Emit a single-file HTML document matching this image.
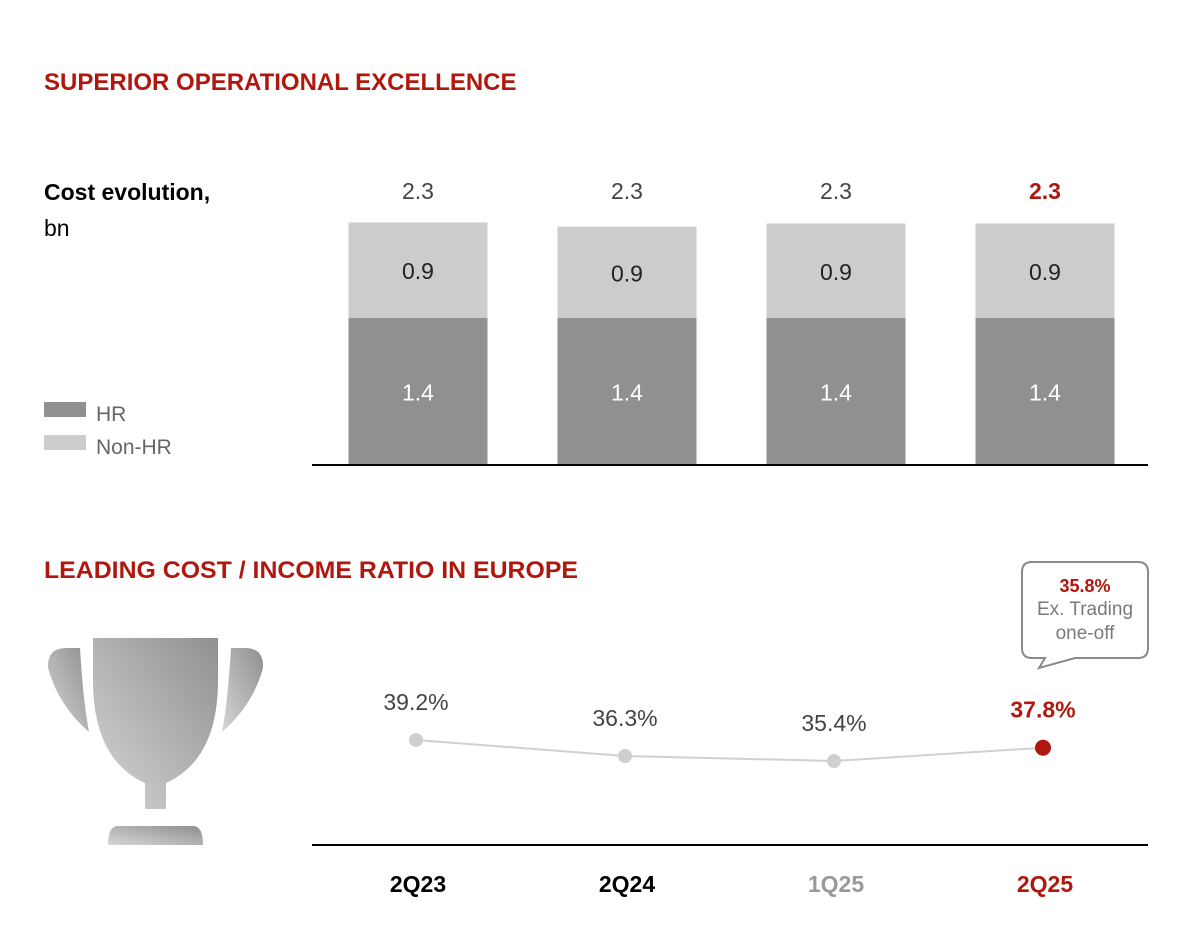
<!DOCTYPE html>
<html><head><meta charset="utf-8"><style>
body{margin:0;width:1186px;height:928px;background:#fff;font-family:"Liberation Sans",sans-serif;overflow:hidden}
svg{display:block}
</style></head><body>
<svg width="1186" height="928">
<defs>
<linearGradient id="tg" x1="1" y1="0" x2="0" y2="1"><stop offset="0" stop-color="#8f8f8f"/><stop offset="1" stop-color="#d6d6d6"/></linearGradient>
</defs>
<text x="44" y="90" font-size="24" font-weight="bold" fill="#b0180f">SUPERIOR OPERATIONAL EXCELLENCE</text>
<text x="44" y="200" font-size="23" font-weight="bold" fill="#000">Cost evolution,</text>
<text x="44" y="236" font-size="23" fill="#000">bn</text>
<rect x="44" y="402" width="42" height="15" fill="#909090"/>
<text x="96" y="421" font-size="21" fill="#666">HR</text>
<rect x="44" y="435" width="42" height="15" fill="#cccccc"/>
<text x="96" y="454" font-size="21" fill="#666">Non-HR</text>
<g id="bars"></g>
<line x1="312" y1="465" x2="1148" y2="465" stroke="#000" stroke-width="2"/>
<text x="44" y="578" font-size="24" font-weight="bold" fill="#b0180f" textLength="534" lengthAdjust="spacingAndGlyphs">LEADING COST / INCOME RATIO IN EUROPE</text>
<g fill="url(#tg)">
<path d="M66,648 L80,648 Q83,700 89,732 Q58,705 48,668 Q47,648 66,648 Z"/>
<path d="M245,648 L231,648 Q228,700 222,732 Q253,705 263,668 Q264,648 245,648 Z"/>
<path d="M90,635 L221,635 L221,680 Q221,760 169,785 L169,812 L142,812 L142,785 Q90,760 90,680 Z" stroke="#fff" stroke-width="6"/>
<path d="M118,826 L193,826 Q203,826 203,845 L108,845 Q108,826 118,826 Z"/>
</g>
<g>
<path d="M1032,562 L1138,562 Q1148,562 1148,572 L1148,648 Q1148,658 1138,658 L1075,658 L1039,668 L1045,658 L1032,658 Q1022,658 1022,648 L1022,572 Q1022,562 1032,562 Z" fill="#fff" stroke="#8a8a8a" stroke-width="2"/>
<text x="1085" y="592" font-size="18" font-weight="bold" fill="#b0180f" text-anchor="middle">35.8%</text>
<text x="1085" y="615" font-size="19" fill="#7a7a7a" text-anchor="middle">Ex. Trading</text>
<text x="1085" y="639" font-size="19" fill="#7a7a7a" text-anchor="middle">one-off</text>
</g>
<g id="line"></g>
<line x1="312" y1="845" x2="1148" y2="845" stroke="#000" stroke-width="2"/>
<g id="cats"></g>
</svg>
<script>
const categories=["2Q23","2Q24","1Q25","2Q25"];
const hrValues=[1.4,1.4,1.4,1.4];
const nonHrValues=[0.91,0.87,0.9,0.9];
const totalLabels=["2.3","2.3","2.3","2.3"];
const ratioValues=[39.2,36.3,35.4,37.8];
const catColors=["#000","#000","#999","#b0180f"];
const NS="http://www.w3.org/2000/svg";
function el(t,a,p,txt){const e=document.createElementNS(NS,t);for(const k in a)e.setAttribute(k,a[k]);if(txt!==undefined)e.textContent=txt;p.appendChild(e);return e;}
const xC=i=>418+i*209;
const yB=v=>465-v*105;
const yL=v=>740+(39.2-v)*5.53;
const bars=document.getElementById('bars');
categories.forEach((c,i)=>{
 const x=xC(i)-69.5,h=hrValues[i],n=nonHrValues[i];
 let r=el('rect',{x:x,y:yB(h),width:139,height:465-yB(h),fill:'#909090'},bars);
 
 
 r=el('rect',{x:x,y:yB(h+n),width:139,height:yB(h)-yB(h+n),fill:'#cccccc'},bars);
 
 
 let t=el('text',{x:xC(i),y:(yB(h)+465)/2+9,'font-size':23,fill:'#fff','text-anchor':'middle'},bars,h.toFixed(1));
 
 
 t=el('text',{x:xC(i),y:(yB(h)+yB(h+n))/2+9,'font-size':23,fill:'#222','text-anchor':'middle'},bars,n.toFixed(1));
 
 
 const last=i===categories.length-1;
 t=el('text',{x:xC(i),y:199,'font-size':23,fill:last?'#b0180f':'#444','font-weight':last?'bold':'normal','text-anchor':'middle'},bars,totalLabels[i]);
 
 
});
const lg=document.getElementById('line');
const pts=ratioValues.map((v,i)=>xC(i)-2+','+yL(v)).join(' ');
const pl=el('polyline',{points:pts,fill:'none',stroke:'#d0d0d0','stroke-width':2},lg);


ratioValues.forEach((v,i)=>{
 const last=i===ratioValues.length-1;
 const c=el('circle',{cx:xC(i)-2,cy:yL(v),r:last?8:7,fill:last?'#b0180f':'#cfcfcf'},lg);
 
 
 const t=el('text',{x:xC(i)-2,y:yL(v)-30,'font-size':23,fill:last?'#b0180f':'#444','font-weight':last?'bold':'normal','text-anchor':'middle'},lg,v.toFixed(1)+'%');
 
 
});
const cg=document.getElementById('cats');
categories.forEach((c,i)=>{
 const t=el('text',{x:xC(i),y:892,'font-size':23,'font-weight':'bold',fill:catColors[i],'text-anchor':'middle'},cg,c);
 
 
});
</script>
</body></html>
